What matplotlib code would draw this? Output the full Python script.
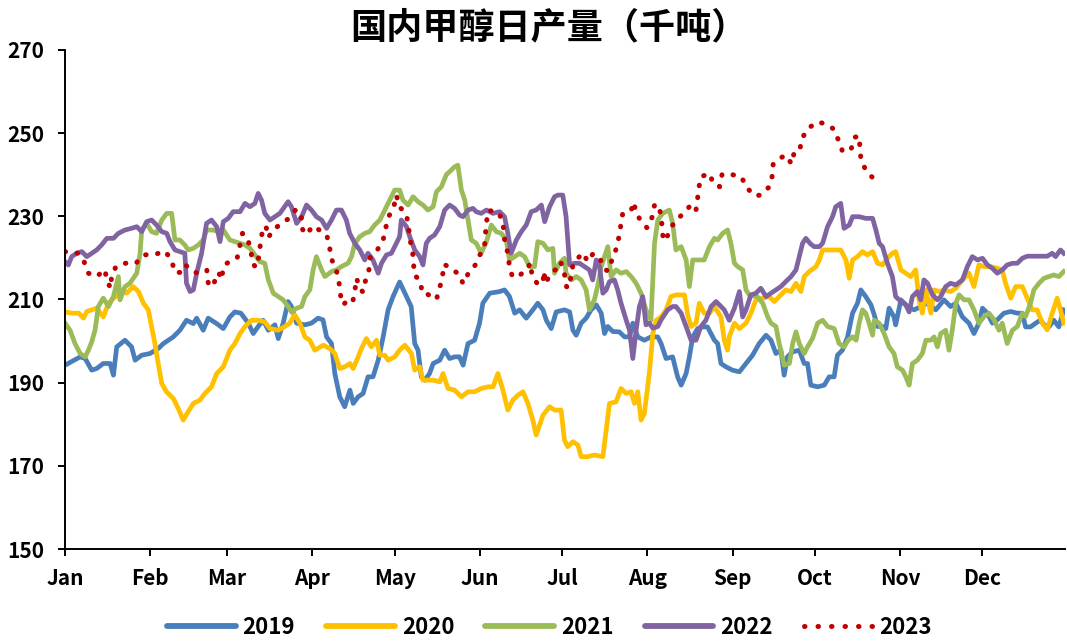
import matplotlib
matplotlib.use("Agg")
import matplotlib.pyplot as plt
from matplotlib.lines import Line2D

plt.rcParams['font.family'] = ['Noto Sans CJK SC', 'DejaVu Sans']

# day of year (0 = Jan 1) and daily output
d19 = [0, 5.5, 7.3, 9.7, 11.5, 13.9, 16.4, 17.6, 18.8, 21.8, 24.2, 25.5, 27.9, 30.9, 33.9, 35.8, 39.4, 41.8,
       44.2, 46.7, 47.9, 50.3, 52.1, 55.2, 57.6, 60, 61.8, 64, 66.7, 68.5, 70.3, 72.1, 74, 76.4, 77.6, 79.4,
       81.2, 82.4, 84.3, 87.3, 89.7, 92.1, 93.9, 95.2, 97, 98.2, 100, 101.8, 103.7, 104.9, 106.7, 108.5,
       110.3, 112.1, 114, 115.8, 117.6, 119.4, 121.8, 124.3, 126, 127.3, 128.5, 129.7, 131, 132.7, 134,
       136.4, 138.2, 140, 141.8, 143.6, 144.9, 146.7, 149.1, 150.9, 152.1, 154.6, 158.2, 160, 161.8, 163.7,
       165.5, 167.9, 170.3, 172.1, 174, 175.2, 177, 178.8, 181.8, 183.7, 184.9, 186.1, 187.9, 189.7, 191.5,
       193.4, 195.2, 196.4, 197.6, 199.4, 201.8, 203.7, 205.5, 206.7, 208.5, 210.9, 213.3, 215.8, 217,
       218.8, 221.2, 223, 224.3, 226.1, 227.3, 228.5, 230.3, 232.1, 233.9, 236.4, 237.6, 238.8, 240.6, 243,
       245.5, 247.9, 250.3, 252.7, 255.2, 257, 258.8, 260.6, 261.8, 263, 264.9, 267.3, 269.1, 270.3, 271.5,
       274, 276.4, 278.2, 280, 281.2, 283, 284.9, 286.7, 288.5, 289.7, 291.5, 293.4, 294.6, 295.8, 297.6,
       298.8, 300, 301.8, 302.4, 304.3, 306.7, 309.1, 311.6, 314, 317, 320, 322.4, 324.3, 326.7, 329.1,
       330.9, 332.7, 334, 335.8, 337.6, 339.4, 341.8, 344.3, 346.7, 348.5, 349.7, 351.5, 353.4, 355.2,
       356.4, 358.2, 360, 361.8, 363.6]
v19 = [194.2, 196.2, 195.8, 193, 193.4, 194.6, 194.6, 191.8, 198.6, 200.2, 198.6, 195.4, 196.6, 197, 198.2,
       199.4, 201, 202.6, 205, 204.2, 205.5, 202.6, 205.5, 204.2, 203, 205.8, 207, 206.7, 204.3, 201.8,
       203.5, 205, 202.6, 203.9, 200.6, 204.3, 209.5, 208.3, 204.3, 203.9, 204.3, 205.5, 205.1, 201, 199.4,
       192.2, 186.6, 184.2, 188.2, 185, 186.6, 187.4, 191.4, 191.4, 195.4, 201, 207.5, 210.7, 214.2, 210.7,
       208.3, 199.4, 197.8, 191.4, 190.6, 192.2, 194.6, 195.4, 197.8, 195.8, 196.2, 196.2, 194.2, 199.4,
       200.2, 204.3, 209.1, 211.5, 211.9, 212.3, 210.7, 206.7, 207.5, 205.5, 207.5, 209.1, 207.5, 205, 203,
       207, 207.5, 207, 202.6, 201.4, 204.3, 205.5, 207.5, 208.7, 206.7, 201.8, 203.5, 202.3, 202.2, 201,
       201, 204.3, 201, 200.2, 201, 201, 199.4, 195.8, 196.2, 191.4, 189.4, 192.2, 196.2, 201, 203, 203.4,
       203.4, 200.2, 199.4, 194.6, 193.8, 193, 192.6, 194.6, 196.6, 199.4, 201.4, 200.2, 197, 197.8, 191.8,
       196.2, 197.4, 197.8, 194.6, 194.6, 189.4, 189, 189.4, 191.4, 191.4, 196.6, 197.8, 201, 206.7, 209.1,
       212.3, 210.7, 208.7, 206.3, 203.5, 203.5, 203, 207.9, 205.8, 203.9, 209.9, 208.3, 207.5, 208.3,
       209.1, 207.5, 209.9, 208.3, 209.1, 205.8, 204.3, 201.8, 204.3, 207.9, 206.7, 204.3, 205.1, 206.7,
       207.1, 206.7, 206.7, 203.4, 203.4, 204.3, 205.1, 203.9, 203.4, 205, 203.4, 207.5]

d20 = [0, 2.5, 5, 6.7, 7.9, 9.7, 11.5, 13.9, 15.8, 17.6, 19.4, 21.2, 22.4, 24.8, 26.7, 28.5, 30.3, 31.5, 32.7,
       33.9, 35.2, 36.9, 39.4, 41.2, 43, 44.8, 46.7, 49.1, 50.9, 53.3, 55.2, 57.6, 60, 61.8, 63.7, 65.5, 67.9,
       70.3, 72.7, 74.6, 77.6, 80, 81.8, 83.6, 85.5, 87.3, 89.1, 90.9, 94, 96.4, 98.2, 100, 101.8, 103.7,
       104.9, 106.7, 107.9, 109.7, 111.5, 113.4, 114.6, 116.4, 117.6, 120, 121.8, 123.7, 126.1, 127.3,
       129.1, 130.3, 132.1, 134, 136.4, 137.6, 139.4, 141.8, 144.3, 146.7, 149.1, 151.5, 154, 155.8, 157.6,
       159.4, 161.2, 163, 164.9, 166.7, 168.5, 170.3, 171.5, 174, 176.4, 178.2, 180.6, 181.8, 183, 184.9,
       186.7, 187.9, 190.3, 192.7, 195.8, 197, 198.2, 200.6, 202.4, 204.3, 206.1, 207.3, 208.5, 209.7,
       210.9, 212.7, 214, 215.2, 217, 218.8, 220.6, 222.4, 225.5, 226.7, 227.9, 229.7, 230.9, 232.7, 234.6,
       236.4, 238.8, 240, 241.2, 241.8, 243.7, 245.5, 247.9, 249.7, 251.5, 254, 256.4, 258.2, 260, 262.4,
       264.3, 266.1, 267.9, 269.1, 270.9, 273.4, 274.6, 275.8, 282.4, 284.3, 285.5, 286.7, 288.5, 290.3,
       292.1, 294, 295.8, 297.6, 299.4, 301.2, 302.4, 304.3, 306.1, 307.9, 309.7, 310.9, 312.1, 313.4,
       315.2, 316.4, 318.2, 320, 322.4, 324.3, 326.7, 329.1, 330.9, 332.7, 334.6, 337, 339.4, 341.2, 342.4,
       344.3, 346.1, 348.5, 350.3, 352.1, 353.9, 355.8, 357.6, 359.4, 361.2, 362.4, 363.6]
v20 = [207, 206.7, 206.7, 205.5, 207.1, 207.5, 207.9, 205.8, 209.1, 210.3, 211.1, 211.9, 211.5, 213.1, 211.9,
       209.1, 207.5, 203.5, 199.4, 194.6, 189.8, 187.8, 186.2, 183.8, 181, 183, 185, 185.8, 187.4, 189,
       192.2, 193.8, 197.8, 199.4, 201.8, 203.5, 205, 205, 204.6, 203, 202.6, 203.5, 204.3, 206.3, 204.3,
       201, 200.2, 197.8, 199, 198.2, 197, 193.4, 193.8, 194.6, 193.4, 196.2, 198.2, 200.6, 198.6, 200.2,
       196.6, 196.6, 195.4, 196.2, 197.8, 199, 197, 193, 193.8, 190.6, 190.6, 190.6, 190.2, 192.2, 188.6,
       188.2, 186.6, 187.8, 187.8, 188.6, 189, 189, 192.2, 188.2, 183.4, 185.8, 187, 187.8, 185, 181, 177.4,
       182.2, 184.2, 183.4, 183.4, 176.2, 174.6, 175.8, 175, 172.2, 172.2, 172.6, 172.2, 178.6, 185, 185.4,
       188.6, 187.4, 187.8, 185, 187.8, 181, 182.6, 192.2, 201.8, 205, 205.8, 207.5, 210.7, 211.1, 211.1,
       206.3, 203.5, 204.3, 209.1, 206.7, 206.7, 208.3, 205.8, 200.2, 197.8, 201, 204.3, 203, 204.3, 206.7,
       209.9, 210.3, 210.7, 209.5, 210.7, 212.3, 211.9, 213.9, 211.9, 215.5, 216.7, 217.9, 219.5, 221.9,
       221.9, 219.5, 215.1, 219.5, 220.3, 221.5, 220.7, 221.5, 218.7, 218.3, 219.9, 221.1, 221.5, 217.1,
       216.3, 215.5, 217.1, 209.9, 206.7, 212.3, 206.7, 212.3, 211.9, 212.3, 211.9, 212.7, 214.7, 216.3,
       213.1, 218.3, 217.9, 217.9, 217.5, 217.1, 213.9, 210.3, 213.1, 213.1, 210.3, 207.5, 207.5, 204.3,
       202.7, 206.7, 210.3, 207.5, 204.3]

d21 = [0, 1.8, 3.6, 5.5, 7.3, 8.5, 9.7, 10.9, 12.1, 13.9, 15.8, 17.6, 19.4, 20, 21.8, 23.6, 26.1, 27.3, 27.9,
       29.7, 31.5, 33.3, 35.2, 37, 38.8, 40, 41.8, 43.6, 44.8, 46.7, 48.5, 50.3, 51.5, 53.9, 55.8, 57.6, 60,
       61.8, 63.7, 65.5, 67.3, 69.1, 70.9, 72.7, 74, 75.8, 77.6, 79.4, 81.2, 82.4, 84.3, 86.1, 87.3, 89.1,
       90.3, 91.5, 93.4, 94.6, 97, 98.8, 100.6, 103, 104.3, 105.5, 107.3, 109.1, 110.9, 112.7, 114.6, 116.4,
       118.2, 120, 121.8, 123, 124.9, 126.7, 128.5, 130.3, 132.1, 134, 135.2, 137, 138.8, 140.6, 141.8, 143,
       144.3, 145.5, 146.7, 147.9, 149.7, 151.5, 153.4, 155.2, 157, 158.8, 160.6, 161.8, 163.7, 165.5,
       167.3, 169.1, 170.9, 172.1, 174, 175.8, 177.6, 178.2, 180, 181.8, 182.4, 184.3, 186.1, 187.9, 189.7,
       190.9, 192.7, 194, 195.2, 196.4, 197.6, 198.8, 200.6, 202.4, 204.3, 206.1, 207.9, 209.7, 211.5,
       213.3, 214.6, 215.8, 217.6, 220, 221.2, 222.4, 224.3, 226.1, 227.3, 228.5, 230.3, 232.7, 234.6,
       236.4, 237.6, 239.4, 241.2, 242.4, 243.7, 244.9, 246.7, 247.9, 249.1, 252, 254, 255.8, 257, 258.8,
       260, 261.8, 263.7, 264.9, 266.1, 267.3, 269.1, 270.3, 272.1, 274, 275.8, 277.6, 280, 281.8, 283.6,
       285.1, 286.7, 288, 289.1, 290.3, 291.5, 292.7, 294, 294.6, 296.4, 298.2, 300, 301.8, 303, 304.9,
       306.1, 307.3, 308.5, 310.3, 312.1, 313.4, 315.2, 316.4, 317.6, 318.8, 320.6, 321.8, 323, 324.3,
       325.5, 327.3, 329.1, 330.9, 332.7, 334.6, 336.4, 338.2, 340, 341.2, 343, 344.9, 346.7, 348.5, 349.7,
       351.5, 352.7, 354.6, 356.4, 358.2, 360, 361.8, 363.6]
v21 = [204.3, 202.6, 199.4, 197, 196.2, 197.8, 199.8, 202.6, 208.3, 210.3, 208.3, 210.7, 215.5, 209.9, 213.1,
       213.9, 216.3, 221.1, 226.7, 228.3, 226.3, 225.9, 229.1, 230.7, 230.7, 224.3, 224.3, 223.1, 221.9,
       222.3, 223.1, 224.3, 226.7, 226.7, 226.3, 226.7, 224.3, 223.9, 223.5, 223.1, 222.3, 220.7, 219.1,
       218.7, 214.7, 211.5, 210.7, 209.9, 208.3, 207, 207.9, 208.3, 210.7, 212.3, 217.1, 220.3, 217.1,
       215.5, 216.7, 217.1, 217.9, 218.7, 220.3, 223.5, 225.1, 225.9, 226.3, 227.9, 229.1, 231.5, 233.9,
       236.3, 236.3, 233.9, 232.7, 234.7, 233.5, 232.7, 231.5, 232.3, 235.9, 237.1, 240, 241.1, 241.9,
       242.3, 236.3, 233.9, 229.1, 224.3, 223.5, 221.1, 223.9, 227.9, 226.3, 225.9, 224.3, 219.5, 220.3,
       221.1, 220.3, 217.9, 217.9, 223.9, 223.5, 221.9, 222.3, 216.3, 218.7, 219.9, 216.3, 214.7, 215.5,
       214.7, 212.3, 207.5, 209.9, 213.5, 217.9, 220.3, 222.7, 215.5, 217.1, 216.3, 216.7, 215.5, 213.9,
       211.5, 207.5, 205, 223.5, 229.1, 230.7, 231.5, 228.3, 221.9, 222.7, 219.5, 213.1, 219.5, 219.5,
       219.5, 222.7, 224.7, 224.3, 225.9, 226.7, 223.5, 218.7, 217.9, 217.1, 212.3, 211.1, 210.7, 209.1,
       205.8, 204.3, 203.5, 199.4, 194.2, 194.6, 199.4, 202.2, 199.4, 197, 198.6, 200.6, 204.3, 205, 203.5,
       203, 199.4, 198.6, 200.2, 201, 200.2, 204.3, 207.5, 206.7, 204.3, 201.4, 205, 204.3, 201.8, 198.6,
       197, 193.8, 193, 191.4, 189.4, 194.6, 195.4, 197, 200.2, 200.2, 201, 198.6, 201.8, 202.6, 197.8,
       202.6, 209.1, 211.1, 209.9, 209.9, 207.5, 204.3, 205.9, 206.7, 205.1, 202.6, 204.3, 199.4, 202.6,
       203.5, 206.7, 205.9, 209.1, 212.3, 213.9, 215.1, 215.5, 215.9, 215.5, 216.7]

d22 = [0, 1.2, 2.4, 4.2, 6.1, 7.9, 9.7, 11.5, 13.3, 15.2, 17.6, 19.4, 21.8, 24.2, 26.1, 27.9, 29.7, 31.5, 33.3,
       35.2, 37, 38.2, 40, 41.8, 43.6, 44.2, 45.5, 46.7, 47.9, 49.7, 51.5, 53.3, 55.2, 56.4, 57.6, 59.4, 61.2,
       63.7, 65.5, 67.3, 69.1, 70.3, 71.5, 72.7, 74.6, 76.4, 78.2, 79.9, 81.2, 82.4, 84.3, 86.1, 87.9, 89.7,
       91.5, 93.4, 95.2, 97, 98.8, 100.6, 102.4, 103.6, 105.5, 107.3, 109.1, 110.3, 112.1, 114, 115.2, 117,
       118.8, 120.6, 121.8, 122.4, 124.3, 125.5, 127.3, 129.1, 130.3, 131.5, 132.7, 134.5, 136.4, 138.2,
       140, 141.8, 143.6, 144.9, 146.7, 148.5, 149.7, 151.5, 153.4, 155.8, 158.2, 160, 161.2, 162.4, 164.3,
       166.1, 167.9, 169.7, 171.5, 173.4, 174.6, 176.4, 178.2, 179.4, 181.2, 182.4, 183.7, 185.5, 187.3,
       189.1, 190.9, 192.1, 193.4, 194.6, 195.8, 197, 198.2, 200, 201.2, 202.4, 204.3, 205.5, 206.7, 207.9,
       209.1, 210.3, 211.5, 212.7, 214, 215.8, 217, 219.4, 221.2, 222.4, 224.3, 226.1, 227.9, 229.7, 231.5,
       233.3, 235.2, 237, 238.8, 240, 241.8, 243.7, 245.5, 246.7, 247.9, 249.7, 251.5, 253.3, 255.2, 257,
       258.8, 260.6, 262.4, 264.3, 266.1, 267.3, 268.5, 269.7, 271.2, 272.7, 274.6, 275.8, 277.6, 279.4,
       280.6, 282.4, 283.6, 285.5, 286.7, 289.1, 291.5, 294, 295.2, 296.4, 297.6, 299.4, 301.2, 302.4,
       304.3, 306.1, 307.3, 308.5, 310.3, 311.5, 312.7, 314, 315.8, 317.6, 318.8, 320.6, 322.4, 324.3,
       326.7, 328.5, 330.3, 332.2, 334, 335.8, 337.6, 339.4, 341.2, 343, 344.9, 346.7, 348.5, 350.3, 354,
       357.6, 359.4, 360.6, 362.4, 363.6]
v22 = [219.1, 218.3, 220.3, 221.1, 221.5, 220.3, 221.1, 221.9, 223.1, 224.7, 224.7, 225.9, 226.7, 227.1,
       227.5, 226.3, 228.7, 229.1, 227.9, 226.3, 225.9, 223.9, 221.9, 221.5, 221.1, 213.9, 211.9, 212.3,
       216.3, 221.1, 228.3, 229.1, 227.5, 223.9, 228.7, 229.5, 231.1, 231.1, 233.1, 232.3, 233.1, 235.5,
       233.9, 230.7, 229.1, 229.9, 230.7, 232.3, 233.5, 232.3, 228.3, 229.9, 232.7, 231.5, 229.9, 229.1,
       227.1, 229.1, 231.5, 231.5, 229.1, 225.9, 223.5, 221.9, 219.5, 221.1, 219.5, 216.3, 218.7, 220.7,
       221.1, 223.5, 225.1, 229.1, 227.5, 225.1, 221.9, 220.3, 218.3, 223.5, 224.7, 225.5, 227.5, 231.5,
       232.7, 231.9, 230.3, 229.9, 231.5, 231.9, 231.1, 230.7, 231.5, 230.7, 231.1, 229.9, 225.9, 221.1,
       224.3, 226.3, 227.9, 231.1, 231.5, 232.7, 228.7, 232.3, 234.7, 235.1, 235.1, 229.9, 218.3, 218.7,
       218.7, 217.9, 217.1, 214.7, 219.5, 217.9, 211.5, 212.3, 214.3, 214.7, 212.3, 209.1, 205, 202.6,
       195.8, 202.6, 208.3, 210.7, 203.9, 204.3, 203.1, 203.5, 205.1, 207.5, 208.3, 208.3, 206.7, 203.5,
       200.2, 200.2, 203.5, 205, 208.3, 209.5, 208.3, 207.5, 205, 207.9, 211.9, 205.8, 207.5, 211.1, 211.5,
       212.7, 210.7, 211.5, 212.3, 213.1, 214.3, 215.5, 217.1, 220.3, 223.5, 224.7, 223.5, 222.7, 222.7,
       223.5, 227.5, 229.9, 232.3, 233.1, 227.1, 227.9, 229.9, 229.9, 229.5, 229.5, 226.7, 223.5, 222.7,
       218.7, 215.5, 210.7, 209.5, 208.7, 207, 210.7, 211.9, 209.9, 214.7, 213.9, 211.1, 209.9, 210.7,
       213.1, 213.9, 213.5, 214.7, 217.9, 220.3, 219.5, 219.9, 218.3, 217.5, 216.3, 217.1, 218.3, 218.7,
       218.7, 219.9, 220.4, 220.4, 220.4, 221.1, 220.3, 221.9, 221.1]

d23 = [0, 4.8, 6.9, 8.5, 11.5, 14.5, 15.2, 16.6, 16.9, 18.5, 22, 25.8, 28.5, 33, 36.5, 38.8, 40, 42.4, 43.9,
       45.5, 48.3, 51.6, 52.1, 54.1, 54.9, 56.1, 57, 57.6, 60, 62.7, 63.7, 64.6, 66.4, 67.7, 68.1, 69.5, 70.6,
       71.1, 71.8, 73.1, 74, 75.9, 78.6, 81.5, 84.1, 86, 86.3, 87.8, 90.3, 92.1, 95.3, 96.3, 97, 98.7, 99.7,
       100.1, 101.2, 102.8, 104.7, 105.5, 106.2, 106.9, 108.4, 109.4, 110.6, 111.1, 113.5, 115.8, 116.7,
       117.8, 119.7, 120.6, 121.8, 124.3, 125.1, 125.5, 126.4, 126.9, 127, 129.4, 130, 132.1, 135.2, 136.4,
       137.4, 138, 140.9, 143.4, 144.9, 146.9, 149.5, 150.9, 152.7, 153, 153.4, 154.1, 157.7, 159.4, 159.8,
       160.3, 161.4, 161.7, 162.9, 165.2, 168.1, 169.4, 170, 172.1, 174, 174.3, 174.9, 176.6, 178.6, 180.4,
       181.8, 182.2, 183, 184.3, 184.9, 186.7, 188.5, 190.3, 192.1, 194.6, 195.8, 197.6, 199, 200.6, 201.6,
       202.3, 203, 203.9, 206.1, 207, 208.1, 210.1, 211.9, 213.8, 214.6, 216, 217, 217.4, 217.8, 219.8,
       221.5, 223, 225.5, 227.3, 229.6, 230.2, 230.7, 231.5, 234.6, 236.1, 238.3, 239.2, 243, 246.3, 248.1,
       251.2, 253.1, 256.1, 257.4, 257.8, 259.8, 262.4, 264.5, 265.5, 267.5, 268.3, 270.8, 274.2, 277.2,
       279.8, 281.5, 283.1, 286.2, 287.5, 289.1, 289.4, 289.8, 291.7, 294.4]
v23 = [221.5, 221.1, 219.1, 216.3, 215.5, 217.2, 214.5, 212.7, 215.5, 217.9, 218.7, 218.7, 220.7, 220.9, 221.6,
       219.3, 216.5, 216.5, 218.3, 217.1, 216.3, 217.1, 214, 213.1, 216.2, 216.2, 214.8, 217.9, 219.3, 220.1,
       223.1, 225.9, 224.7, 221.7, 218.8, 217.7, 220.4, 223.3, 226.3, 227.7, 224.9, 226.9, 228.1, 229.5,
       231.7, 229.9, 227, 225.6, 227.7, 226.9, 225.4, 222.5, 219.7, 217.2, 214.4, 211.5, 208.7, 209.7, 209.3,
       212.2, 215.1, 213.1, 211.8, 214.6, 217, 220.1, 221.7, 224.3, 227.1, 229.9, 232.3, 235.1, 232.3, 230.3,
       227.3, 224.5, 222.1, 219.1, 216.1, 214.3, 211.5, 211.2, 210, 212.8, 215.6, 218.5, 217.2, 216.1, 213.8,
       216.4, 218.4, 220.6, 222.5, 225.5, 228.5, 231.4, 231, 228.7, 225.7, 222.9, 220.9, 218.1, 215.4, 215.7,
       217.1, 218.8, 215.8, 213.6, 214.1, 216.8, 213.9, 216, 217.2, 219.1, 216.3, 213.5, 212.7, 215.6, 218.4,
       219.9, 221.2, 219.1, 220.9, 220.3, 217.7, 216.8, 219.3, 222.1, 224.9, 227.7, 230.6, 231, 231.4, 233.4,
       230.4, 228.6, 227.2, 229.9, 232.7, 232.8, 230.1, 227.1, 224.1, 225.7, 228.3, 229.3, 231, 232.3, 231,
       233.8, 236.7, 239.5, 240.3, 237.7, 237.1, 240.1, 240, 239.4, 236.9, 234.9, 235.1, 236.9, 239.5, 242.5,
       243.8, 244.7, 242.6, 245.5, 246, 248.8, 251.3, 252.7, 252.1, 251, 248.4, 245.5, 246.2, 249, 249.3,
       246.3, 243.4, 240.9, 239]

month_days = [0, 31, 59, 90, 120, 151, 181, 212, 243, 273, 304, 334]
month_labels = ['Jan', 'Feb', 'Mar', 'Apr', 'May', 'Jun', 'Jul', 'Aug', 'Sep', 'Oct', 'Nov', 'Dec']
yticks = [150, 170, 190, 210, 230, 250, 270]

fig = plt.figure(figsize=(10.67, 6.44), dpi=100)
ax = fig.add_axes([0.061, 0.1475, 0.937, 0.775])

lw = 3.4
ax.plot(d19, v19, color='#4A7EBB', lw=lw, solid_joinstyle='round', label='2019')
ax.plot(d20, v20, color='#FFC000', lw=lw, solid_joinstyle='round', label='2020')
ax.plot(d21, v21, color='#9BBB59', lw=lw, solid_joinstyle='round', label='2021')
ax.plot(d22, v22, color='#8064A2', lw=lw, solid_joinstyle='round', label='2022')
ax.plot(d23, v23, color='#C00000', lw=3.6, linestyle=(0, (0.1, 2.3)), dash_capstyle='round', label='2023')

ax.set_xlim(0, 364)
ax.set_ylim(150, 270)
ax.set_yticks(yticks)
ax.set_xticks(month_days)
ax.set_xticklabels(month_labels)

for s in ['top', 'right']:
    ax.spines[s].set_visible(False)
for s in ['left', 'bottom']:
    ax.spines[s].set_linewidth(1.4)
    ax.spines[s].set_color('black')
ax.tick_params(axis='both', direction='out', length=5, width=1.4, labelsize=15)
ax.tick_params(axis='y', pad=10)
ax.tick_params(axis='x', pad=9)
for t in ax.get_xticklabels() + ax.get_yticklabels():
    t.set_fontweight('bold')

fig.text(0.514, 0.957, '国内甲醇日产量（千吨）', ha='center', va='center', fontsize=26, fontweight='bold')

handles = [Line2D([], [], color='#4A7EBB', lw=4.2, solid_capstyle='round'),
           Line2D([], [], color='#FFC000', lw=4.2, solid_capstyle='round'),
           Line2D([], [], color='#9BBB59', lw=4.2, solid_capstyle='round'),
           Line2D([], [], color='#8064A2', lw=4.2, solid_capstyle='round'),
           Line2D([], [], color='#C00000', lw=3.6, linestyle=(0, (0.1, 2.6)), dash_capstyle='round')]
fig.legend(handles, ['2019', '2020', '2021', '2022', '2023'], loc='center', ncol=5,
           bbox_to_anchor=(0.515, 0.026), frameon=False, handlelength=3.1, handletextpad=0.3,
           columnspacing=1.4, prop={'size': 16, 'weight': 'bold'})

fig.savefig('out.png', dpi=100)
